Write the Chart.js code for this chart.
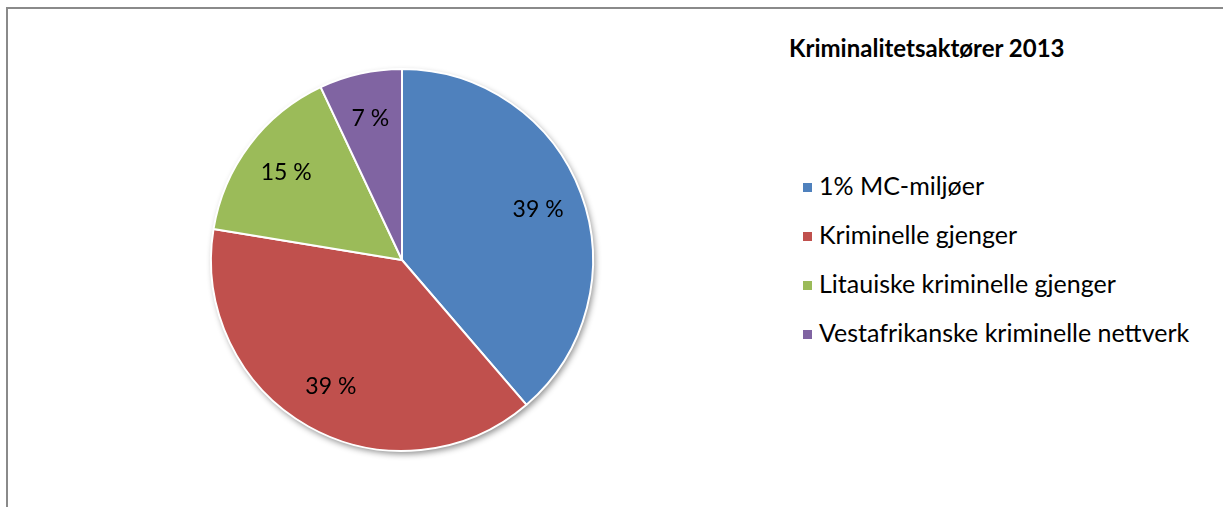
<!DOCTYPE html>
<html>
<head>
<meta charset="utf-8">
<script src="https://cdn.jsdelivr.net/npm/chart.js@4"></script>
<style>
  body { margin: 0; background: #fff; width: 1223px; height: 507px; overflow: hidden; position: relative; font-family: Lato, "Open Sans", sans-serif; }
  #frame { position: absolute; left: 6px; top: 7px; width: 1230px; height: 520px; border-left: 2px solid #8a8a8a; border-top: 2px solid #8a8a8a; }
  #pieBox { position: absolute; left: 195px; top: 53px; width: 414px; height: 414px; }
  #title { position: absolute; left: 789px; top: 33px; line-height: 30px; font-weight: bold; font-size: 24px; color: #000; white-space: nowrap; }
  #legend { position: absolute; left: 803px; top: 161px; }
  .item { height: 49px; line-height: 49px; display: flex; align-items: center; font-size: 25px; color: #000; white-space: nowrap; }
  .box { width: 9px; height: 9px; margin-right: 7px; margin-top: 3px; flex: none; }
</style>
</head>
<body>
<div id="frame"></div>
<div id="pieBox"><canvas id="pie" width="414" height="414"></canvas></div>
<div id="title">Kriminalitetsaktører 2013</div>
<div id="legend"></div>
<script>
const labels = ["1% MC-miljøer", "Kriminelle gjenger", "Litauiske kriminelle gjenger", "Vestafrikanske kriminelle nettverk"]
const values = [38.7, 38.9, 15.4, 7.0]
const colors = ["#4F81BD", "#C0504D", "#9BBB59", "#8064A2"]

//build the legend from the arrays
const legend = document.getElementById("legend")
labels.forEach((l, i) => {
    const row = document.createElement("div")
    row.className = "item"
    row.innerHTML = `<span class="box" style="background:${colors[i]}"></span><span>${l}</span>`
    legend.appendChild(row)
})

//soft shadow behind the pie
const shadowPlugin = {
    id: "pieShadow",
    beforeDatasetsDraw(chart) {
        const arc = chart.getDatasetMeta(0).data[0]
        if (!arc) return
        const ctx = chart.ctx
        ctx.save()
        ctx.shadowColor = "rgba(0,0,0,0.45)"
        ctx.shadowBlur = 6
        ctx.shadowOffsetX = 2
        ctx.shadowOffsetY = 3
        ctx.fillStyle = "#fff"
        ctx.beginPath()
        ctx.arc(arc.x, arc.y, arc.outerRadius, 0, Math.PI * 2)
        ctx.fill()
        ctx.restore()
    }
}

//percentage labels inside the slices
const labelPlugin = {
    id: "pieLabels",
    afterDatasetsDraw(chart) {
        const ctx = chart.ctx
        const total = values.reduce((a, b) => a + b, 0)
        ctx.save()
        ctx.font = "23px Lato, 'Open Sans', sans-serif"
        ctx.fillStyle = "#000"
        ctx.textAlign = "center"
        ctx.textBaseline = "middle"
        chart.getDatasetMeta(0).data.forEach((arc, i) => {
            const mid = (arc.startAngle + arc.endAngle) / 2
            const r = arc.outerRadius * 0.76
            const x = arc.x + Math.cos(mid) * r
            const y = arc.y + Math.sin(mid) * r
            ctx.fillText(Math.round(values[i] / total * 100) + " %", x, y)
        })
        ctx.restore()
    }
}

new Chart("pie", {
    type: "pie",
    data: {
        labels: labels,
        datasets: [{
            data: values,
            backgroundColor: colors,
            borderColor: "#fff",
            borderWidth: 2
        }]
    },
    options: {
        responsive: false,
        animation: false,
        layout: { padding: 15 },
        plugins: {
            legend: { display: false },
            tooltip: { enabled: false }
        }
    },
    plugins: [shadowPlugin, labelPlugin]
})
</script>
</body>
</html>
